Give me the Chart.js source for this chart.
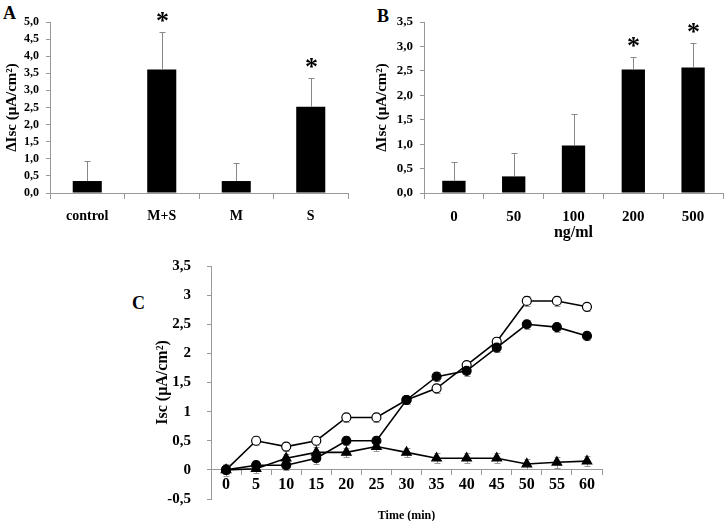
<!DOCTYPE html>
<html>
<head>
<meta charset="utf-8">
<script src="https://cdn.jsdelivr.net/npm/chart.js@4.4.0/dist/chart.umd.min.js"></script>
<style>
  body { margin: 0; background: #fff; width: 725px; height: 521px; position: relative; overflow: hidden; }
  .panel { position: absolute; }
  .letter { position: absolute; font: bold 18px 'Liberation Serif', serif; line-height: 1; color: #000; }
</style>
</head>
<body>
<div class="letter" style="left:3px;top:4px">A</div>
<div class="letter" style="left:377px;top:7px">B</div>
<div class="letter" style="left:132px;top:294px">C</div>
<div class="panel" style="left:0;top:0;width:360px;height:250px"><canvas id="chartA"></canvas></div>
<div class="panel" style="left:360px;top:0;width:365px;height:250px"><canvas id="chartB"></canvas></div>
<div class="panel" style="left:140px;top:241px;width:470px;height:283px"><canvas id="chartC"></canvas></div>
<script>
// panel A
const catsA = ['control', 'M+S', 'M', 'S'];
const meanA = [0.35, 3.61, 0.35, 2.52];
const errTopA = [0.93, 4.71, 0.87, 3.36];
const starA = [false, true, false, true];

// panel B
const catsB = ['0', '50', '100', '200', '500'];
const meanB = [0.25, 0.34, 0.97, 2.53, 2.57];
const errTopB = [0.63, 0.82, 1.61, 2.79, 3.08];
const starB = [false, false, false, true, true];

// panel C
const timeC = ['0', '5', '10', '15', '20', '25', '30', '35', '40', '45', '50', '55', '60'];
const openC = [0, 0.5, 0.4, 0.5, 0.9, 0.9, 1.2, 1.4, 1.8, 2.2, 2.9, 2.9, 2.8];
const filledC = [0, 0.08, 0.08, 0.2, 0.5, 0.5, 1.2, 1.6, 1.7, 2.1, 2.5, 2.45, 2.3];
const triC = [0, 0.02, 0.2, 0.3, 0.3, 0.4, 0.3, 0.2, 0.2, 0.2, 0.1, 0.13, 0.15];
const errOpenC = [0.07, 0.08, 0.08, 0.08, 0.08, 0.08, 0.07, 0.08, 0.07, 0.08, 0.08, 0.08, 0.07];
const errFilledC = [0.07, 0.08, 0.08, 0.1, 0.08, 0.08, 0.07, 0.08, 0.08, 0.08, 0.08, 0.08, 0.07];
const errTriC = [0.1, 0.07, 0.08, 0.1, 0.08, 0.08, 0.08, 0.09, 0.09, 0.09, 0.08, 0.09, 0.08];

const FONT = "'Liberation Serif', 'Times New Roman', serif";
const AXIS = '#999';
Chart.defaults.font.family = FONT;
Chart.defaults.font.weight = 'bold';
Chart.defaults.color = '#000';
Chart.defaults.animation = false;

const comma = v => (Math.round(v * 10) / 10).toString().replace('.', ',');
const comma1 = v => v.toFixed(1).replace('.', ',');

// error bars (upper only) + asterisks for the bar panels
const barExtras = {
    id: 'barExtras',
    afterDatasetsDraw(chart, args, opts) {
        const ctx = chart.ctx, y = chart.scales.y;
        const meta = chart.getDatasetMeta(0);
        ctx.save();
        ctx.strokeStyle = '#888';
        ctx.lineWidth = 1;
        opts.tops.forEach((top, i) => {
            const x = Math.round(meta.data[i].x) + 0.5;
            const y0 = y.getPixelForValue(opts.means[i]);
            const y1 = Math.round(y.getPixelForValue(top)) + 0.5;
            ctx.beginPath();
            ctx.moveTo(x, y0);
            ctx.lineTo(x, y1);
            ctx.moveTo(x - 3, y1);
            ctx.lineTo(x + 3, y1);
            ctx.stroke();
            if (opts.stars[i]) {
                ctx.fillStyle = '#000';
                ctx.font = 'bold 26px ' + FONT;
                ctx.textAlign = 'center';
                ctx.textBaseline = 'alphabetic';
                ctx.fillText('*', x, y1 - 16 + 12);
            }
        });
        ctx.restore();
    }
};

const barChart = (id, labels, means, tops, stars, o) => {
    new Chart(document.getElementById(id), {
        type: 'bar',
        data: {
            labels: labels,
            datasets: [{ data: means, backgroundColor: '#000', barPercentage: 0.39, categoryPercentage: 1 }]
        },
        options: {
            responsive: true,
            maintainAspectRatio: false,
            layout: { padding: { top: 22, right: o.right, bottom: 0, left: 0 } },
            plugins: {
                legend: { display: false },
                tooltip: { enabled: false },
                barExtras: { means: means, tops: tops, stars: stars }
            },
            scales: {
                x: {
                    offset: true,
                    grid: { offset: true, drawOnChartArea: false, tickLength: 6, color: AXIS },
                    border: { color: AXIS },
                    ticks: { font: { size: o.xSize }, padding: 9 },
                    title: o.xTitle ? { display: true, text: o.xTitle, font: { size: 16 }, padding: { top: 0, bottom: 8 } } : { display: false },
                    afterFit: s => { s.height = 57; }
                },
                y: {
                    min: 0, max: o.max,
                    ticks: { stepSize: 0.5, autoSkip: false, callback: comma1, font: { size: o.ySize }, padding: 7 },
                    grid: { drawOnChartArea: false, tickLength: 4, color: AXIS },
                    border: { color: AXIS },
                    title: { display: true, text: 'ΔIsc (μA/cm²)', font: { size: 15 }, padding: { top: o.titlePad, bottom: 0 } },
                    afterFit: s => { s.width = o.yWidth; }
                }
            }
        },
        plugins: [barExtras]
    });
};

barChart('chartA', catsA, meanA, errTopA, starA, { right: 12, max: 5, yWidth: 50, xSize: 14, ySize: 12, titlePad: 3, });
barChart('chartB', catsB, meanB, errTopB, starB, { right: 2, max: 3.5, yWidth: 64, xSize: 15, ySize: 13, titlePad: 13, xTitle: 'ng/ml' });

// error bars for the time course, drawn under the markers
const lineErr = {
    id: 'lineErr',
    beforeDatasetsDraw(chart, args, opts) {
        const ctx = chart.ctx, y = chart.scales.y;
        ctx.save();
        ctx.strokeStyle = '#999';
        ctx.lineWidth = 1;
        chart.data.datasets.forEach((ds, d) => {
            const meta = chart.getDatasetMeta(d);
            opts.errs[d].forEach((e, i) => {
                const x = Math.round(meta.data[i].x) + 0.5;
                const yt = Math.round(y.getPixelForValue(ds.data[i] + e)) + 0.5;
                const yb = Math.round(y.getPixelForValue(ds.data[i] - e)) + 0.5;
                ctx.beginPath();
                ctx.moveTo(x, yt); ctx.lineTo(x, yb);
                ctx.moveTo(x - 3, yt); ctx.lineTo(x + 3, yt);
                ctx.moveTo(x - 3, yb); ctx.lineTo(x + 3, yb);
                ctx.stroke();
            });
        });
        ctx.restore();
    }
};

const lineSet = (data, fill, style, r) => ({
    data: data,
    borderColor: '#000',
    borderWidth: 1.6,
    pointStyle: style,
    pointRadius: r,
    pointBackgroundColor: fill,
    pointBorderColor: '#000',
    pointBorderWidth: 1.2,
    tension: 0
});

new Chart(document.getElementById('chartC'), {
    type: 'line',
    data: {
        labels: timeC,
        datasets: [
            lineSet(triC, '#000', 'triangle', 5.5),
            lineSet(filledC, '#000', 'circle', 4.5),
            lineSet(openC, '#fff', 'circle', 4.5)
        ]
    },
    options: {
        responsive: true,
        maintainAspectRatio: false,
        layout: { padding: { top: 5, right: 8, bottom: 21, left: 0 } },
        plugins: {
            legend: { display: false },
            tooltip: { enabled: false },
            lineErr: { errs: [errTriC, errFilledC, errOpenC] }
        },
        scales: {
            x: {
                position: { y: 0 },
                offset: true,
                grid: { offset: true, drawOnChartArea: false, tickLength: 5, color: AXIS },
                border: { color: AXIS },
                ticks: { font: { size: 16 }, padding: 0 },
                title: { display: true, text: 'Time (min)', font: { size: 12 }, padding: 0 },
                afterFit: s => { s.height = 53; }
            },
            y: {
                min: -0.5, max: 3.5,
                ticks: { stepSize: 0.5, autoSkip: false, callback: comma, font: { size: 15 }, padding: 16 },
                grid: { drawOnChartArea: false, tickLength: 4, color: AXIS },
                border: { color: AXIS },
                title: { display: true, text: 'Isc (μA/cm²)', font: { size: 16 }, padding: { top: 13, bottom: 0 } },
                afterFit: s => { s.width = 71; }
            }
        }
    },
    plugins: [lineErr]
});
</script>
</body>
</html>
